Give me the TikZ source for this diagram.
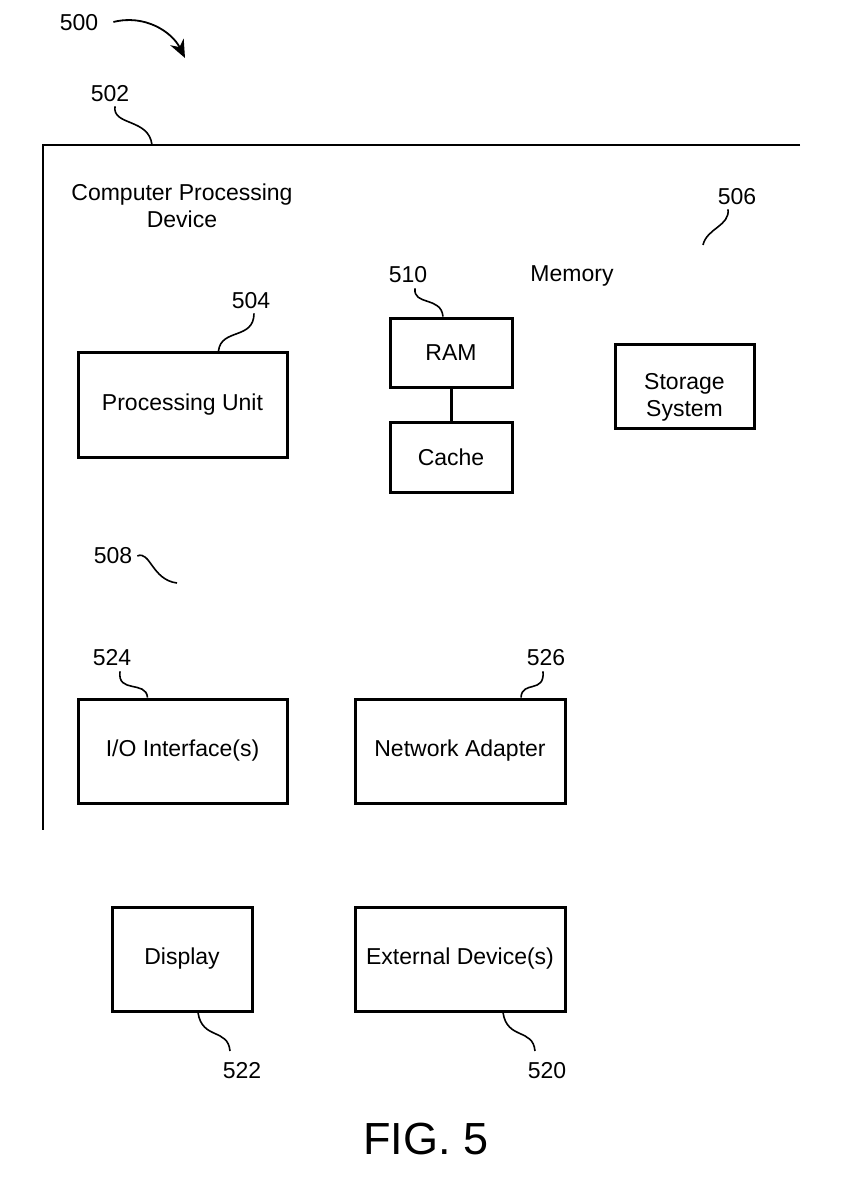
\documentclass[tikz,border=0pt]{standalone}
\usepackage{fontspec}
\setmainfont{Liberation Sans}
\usetikzlibrary{arrows.meta}
\begin{document}
\begin{tikzpicture}[x=1pt,y=-1pt,
  every node/.style={font=\fontsize{23}{27}\selectfont},
  box/.style={draw,line width=3pt,inner sep=0pt,align=center},
  lbl/.style={inner sep=0pt},
  lead/.style={line width=1.6pt}]
\useasboundingbox (0,0) rectangle (858,1188);
% frame
\draw[line width=2.4pt] (800,145) -- (43,145) -- (43,830);
\node[lbl,align=center] (cpd) at (182,206) {Computer Processing\\Device};
% labels
\node[lbl] (l500) at (79,23) {500};
\node[lbl] (l502) at (110,94) {502};
\node[lbl] (l506) at (737,197) {506};
\node[lbl] (l510) at (408,275) {510};
\node[lbl] (mem) at (572,276) {Memory};
\node[lbl] (l504) at (251,301) {504};
\node[lbl] (l508) at (113,556) {508};
\node[lbl] (l524) at (112,658) {524};
\node[lbl] (l526) at (546,658) {526};
\node[lbl] (l522) at (242,1071) {522};
\node[lbl] (l520) at (547,1071) {520};
% boxes
\node[box,minimum width=209pt,minimum height=105pt] (pu) at (182.5,405) {Processing Unit};
\node[box,minimum width=122pt,minimum height=69pt] (ram) at (451,352.5) {RAM};
\node[box,minimum width=122pt,minimum height=70pt] (cache) at (451,457) {Cache};
\node[box,minimum width=139pt,minimum height=84pt] (stor) at (684.5,386) {};
\node[lbl,align=center] (stortxt) at ([yshift=-11pt]stor.center) {Storage\\System};
\node[box,minimum width=209pt,minimum height=104pt] (io) at (182.5,751) {I/O Interface(s)};
\node[box,minimum width=210pt,minimum height=104pt] (na) at (460,751) {Network Adapter};
\node[box,minimum width=140pt,minimum height=104pt] (disp) at (182,959) {Display};
\node[box,minimum width=210pt,minimum height=104pt] (ext) at (460,959) {External Device(s)};
\draw[line width=3pt] (ram.south) -- (cache.north);
% arrow 500
\draw[line width=1.8pt,-{Stealth[length=18pt,width=15pt]}] (l500.east) ++(15,-1) .. controls (145,14) and (172,32) .. (185,58);
% leaders
\coordinate (a502) at (152,145);
\draw[lead] (l502.south) ++(5,4) .. controls (112,126) and (149,118) .. (a502);
\coordinate (a506) at (703,245);
\draw[lead] (l506.south) ++(-9,4) .. controls (730,226) and (707,228) .. (a506);
\draw[lead] (l510.south) ++(7,5) .. controls (413,306) and (441,296) .. ([xshift=-8pt]ram.north);
\draw[lead] (l504.south) ++(3,4) .. controls (254,340) and (221,328) .. ([xshift=36pt]pu.north);
\coordinate (a508) at (177,583);
\draw[lead] (l508.east) ++(5,0) .. controls (150,550) and (152,580) .. (a508);
\draw[lead] (l524.south) ++(8,5) .. controls (117,694) and (146,680) .. ([xshift=-35pt]io.north);
\draw[lead] (l526.south) ++(-3,5) .. controls (545,694) and (522,680) .. ([xshift=61pt]na.north);
\coordinate (e522) at (230,1051);
\coordinate (e520) at (535,1051);
\draw[lead] ([xshift=16pt]disp.south) .. controls (202,1040) and (228,1028) .. (e522);
\draw[lead] ([xshift=43pt]ext.south) .. controls (507,1040) and (533,1028) .. (e520);
% caption
\node[lbl,font=\fontsize{45}{50}\selectfont] (fig) at (426,1139) {FIG. 5};
\end{tikzpicture}
\end{document}
